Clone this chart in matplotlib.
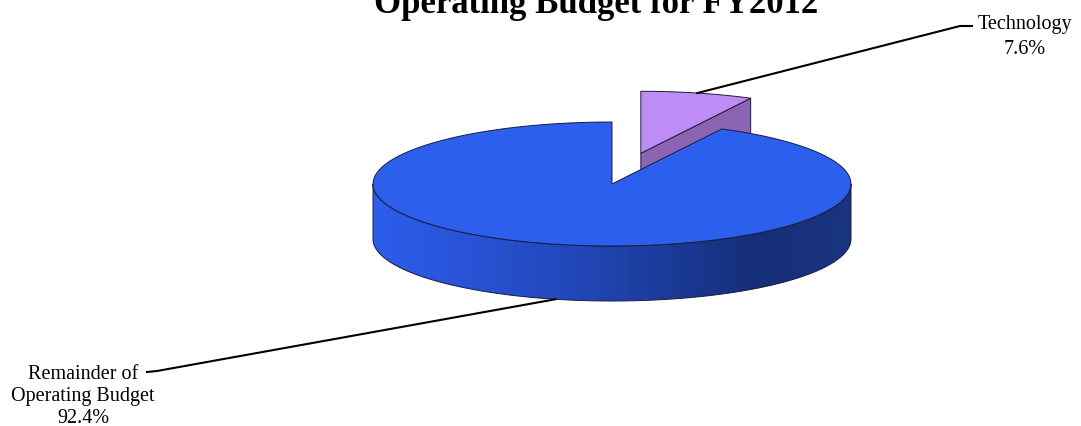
import numpy as np
import matplotlib.pyplot as plt
from matplotlib.patches import Polygon
from matplotlib.colors import LinearSegmentedColormap

# budget shares, first slice starts at 12 o'clock and runs clockwise
labels = ["Technology", "Remainder of\nOperating Budget"]
shares = [7.6, 92.4]
explode = [0.51, 0.0]
title = "Operating Budget for FY2012"

top_colors = ["#be8cf5", "#2d5fee"]
cut_color = "#8c64b4"
edge = "#1c1c3c"
side_stops = ["#2c5deb", "#2853d6", "#2248bb", "#1c3c9c", "#152e78", "#1a3580"]

W, H = 1081, 427
fig = plt.figure(figsize=(W / 100, H / 100), dpi=100)
ax = fig.add_axes([0, 0, 1, 1])
ax.axis("off")

# pie geometry in pixel space: centre, radii of the tilted ellipse, thickness
cx, cy, rx, ry, depth = 612, 185, 239, 62, 55


def proj(theta, r=1.0, z=0.0, off=(0.0, 0.0)):
    t = np.radians(theta)
    return (cx + off[0] + rx * r * np.cos(t), cy + off[1] - ry * r * np.sin(t) + z)


def arc(a0, a1, z=0.0, off=(0.0, 0.0), n=200):
    return [proj(a, 1.0, z, off) for a in np.linspace(a0, a1, n)]


# slice angle ranges (counter-clockwise from start to end)
spans = []
start = 90.0
for s in shares:
    sweep = s / sum(shares) * 360.0
    spans.append((start - sweep, start))
    start -= sweep

offsets = []
for (a0, a1), e in zip(spans, explode):
    mid = np.radians((a0 + a1) / 2)
    offsets.append((e * rx * np.cos(mid), -e * ry * np.sin(mid)))

# Technology wedge sits behind the main pie: draw its cut face, then its top
(t0, t1), toff = spans[0], offsets[0]
tip = proj(0, 0, 0, toff)
cut = [tip, proj(t0, 1, 0, toff), proj(t0, 1, depth, toff), proj(0, 0, depth, toff)]
ax.add_patch(Polygon(cut, closed=True, fc=cut_color, ec=edge, lw=0.7, zorder=1))
ax.add_patch(Polygon([tip] + arc(t0, t1, off=toff), closed=True,
                     fc=top_colors[0], ec=edge, lw=0.7, zorder=2))

# main pie: shaded front wall
m0, m1 = spans[1]
moff = offsets[1]
side = arc(180, 360, off=moff) + arc(360, 180, depth, off=moff)
side_patch = Polygon(side, closed=True, fc="none", ec=edge, lw=0.7, zorder=4)
ax.add_patch(side_patch)
cmap = LinearSegmentedColormap.from_list("side", side_stops)
grad = np.linspace(0, 1, 256)[None, :]
img = ax.imshow(grad, cmap=cmap, aspect="auto", zorder=3,
                extent=(cx - rx, cx + rx, cy + ry + depth, cy - ry))
img.set_clip_path(side_patch)

# main pie top
ax.add_patch(Polygon([proj(0, 0, 0, moff)] + arc(m0, m1, off=moff), closed=True,
                     fc=top_colors[1], ec=edge, lw=0.7, zorder=5))

ax.set_xlim(0, W)
ax.set_ylim(H, 0)

# leader lines and labels
p = proj((t0 + t1) / 2, 1, 0, toff)
ax.plot([p[0], 960, 972], [p[1], 27, 27], color="black", lw=1.5, zorder=6)
ax.text(1025, 54, f"{labels[0]}\n{shares[0]}%", ha="center", va="baseline",
        family="Liberation Serif", fontsize=14.5, linespacing=1.45)

p = proj((m0 + m1) / 2, 1, depth, moff)
ax.plot([p[0], 157, 147], [p[1], 372, 373], color="black", lw=1.5, zorder=6)
ax.text(83, 423, f"{labels[1]}\n{shares[1]}%", ha="center", va="baseline",
        family="Liberation Serif", fontsize=14.5, linespacing=1.2)

ax.text(596, 13, title, ha="center", va="baseline", family="Liberation Serif",
        fontweight="bold", fontsize=25)

fig.savefig("out.png", dpi=100)
